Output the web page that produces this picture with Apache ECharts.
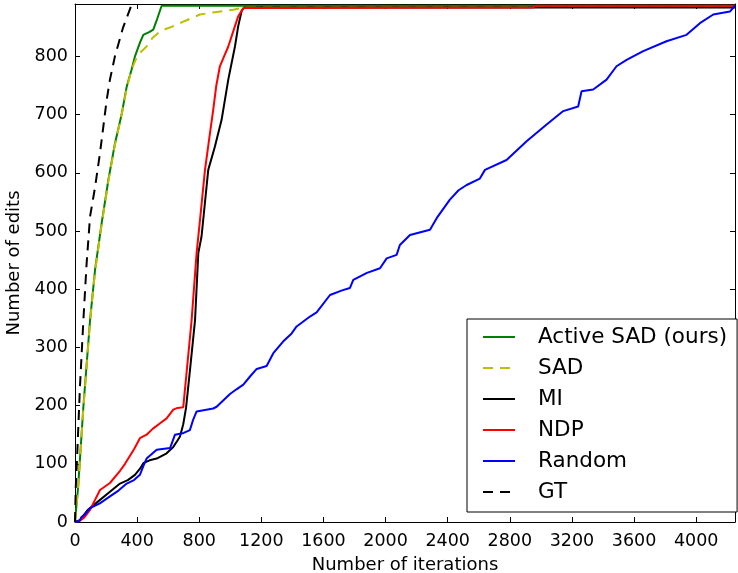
<!DOCTYPE html>
<html>
<head>
<meta charset="utf-8">
<script src="https://cdn.jsdelivr.net/npm/echarts@6/dist/echarts.min.js"></script>
<style>html,body{margin:0;padding:0;background:#fff}#c{width:738px;height:573px}</style>
</head>
<body>
<div id="c"></div>
<script>
const xTicks = [0, 400, 800, 1200, 1600, 2000, 2400, 2800, 3200, 3600, 4000];
const yTicks = [0, 100, 200, 300, 400, 500, 600, 700, 800];

const activeSad = [[0,0],[20,60],[54,198],[97,347],[129,433],[172,514],[215,588],[257,650],[300,700],[333,748],[365,778],[386,800],[420,825],[440,837],[480,842],[504,846],[530,865],[558,887],[4250,887]];
const sad = [[0,0],[20,58],[54,195],[97,345],[129,430],[172,512],[215,586],[257,648],[300,700],[333,745],[365,778],[400,800],[418,806],[461,817],[500,832],[547,843],[633,852],[700,860],[805,872],[900,876],[1020,880],[1105,885],[4250,885]];
const mi = [[0,0],[30,3],[80,20],[161,38],[225,52],[290,66],[340,72],[386,81],[420,92],[440,101],[480,106],[526,109],[590,118],[633,129],[660,140],[676,147],[697,168],[715,196],[740,260],[773,347],[794,462],[815,491],[858,605],[901,645],[944,691],[987,760],[1030,817],[1051,852],[1073,878],[1090,884],[4250,884]];
const ndp = [[0,0],[30,2],[60,8],[97,21],[129,38],[161,55],[225,67],[290,88],[322,100],[380,125],[418,144],[461,150],[500,160],[550,170],[590,178],[633,193],[660,196],[697,197],[708,197],[751,347],[783,462],[805,519],[837,605],[865,660],[890,708],[910,750],[933,783],[960,800],[987,817],[1030,852],[1051,869],[1084,883],[2950,884],[2970,887],[4250,887]];
const random = [[0,0],[30,2],[43,9],[60,12],[97,24],[160,32],[225,44],[280,54],[333,66],[380,72],[418,81],[440,96],[461,109],[526,124],[612,127],[644,150],[700,153],[740,158],[760,175],[783,190],[890,195],[912,198],[998,220],[1040,228],[1084,236],[1127,250],[1170,263],[1234,268],[1277,290],[1340,310],[1395,324],[1427,336],[1513,353],[1556,360],[1642,390],[1720,398],[1770,402],[1792,416],[1880,428],[1964,436],[2007,453],[2071,459],[2092,476],[2157,493],[2286,502],[2329,522],[2414,554],[2470,570],[2522,579],[2607,590],[2640,605],[2779,622],[2908,654],[3037,683],[3144,706],[3240,714],[3262,740],[3337,743],[3423,760],[3487,783],[3552,794],[3659,809],[3809,826],[3938,837],[4024,857],[4110,872],[4217,877],[4250,887]];
const gt = [[0,0],[5,60],[11,95],[32,233],[54,347],[75,445],[97,525],[129,575],[161,634],[204,725],[225,760],[257,800],[310,850],[365,889]];

const names = ['Active SAD (ours)', 'SAD', 'MI', 'NDP', 'Random', 'GT'];
const FONT = 'DejaVu Sans';

function mkLine(name, data, color, dashed) {
  return {
    name: name, type: 'line', data: data, symbol: 'none', showSymbol: false, silent: true,
    animation: false, clip: true,
    lineStyle: { color: color, width: 2, type: dashed ? [10, 7] : 'solid' },
    itemStyle: { color: color }
  };
}

const chart = echarts.init(document.getElementById('c'), null, { renderer: 'canvas' });
const axisCommon = {
  axisLine: { show: true, onZero: false, lineStyle: { color: '#000', width: 1 } },
  axisTick: { show: true, inside: true, length: 5, lineStyle: { color: '#000', width: 1 } },
  splitLine: { show: false }
};
chart.setOption({
  animation: false,
  backgroundColor: '#fff',
  grid: { left: 75, right: 3, top: 4, bottom: 51, containLabel: false, outerBoundsMode: 'none' },
  xAxis: [
    Object.assign({
      type: 'value', min: 0, max: 4250, interval: 400, position: 'bottom',
      name: 'Number of iterations', nameLocation: 'middle', nameGap: 34,
      nameTextStyle: { fontFamily: FONT, fontSize: 18, color: '#000' },
      axisLabel: { show: true, margin: 10, fontFamily: FONT, fontSize: 17.5, color: '#000',
        formatter: v => (xTicks.indexOf(v) >= 0 ? String(v) : '') }
    }, axisCommon),
    Object.assign({
      type: 'value', min: 0, max: 4250, interval: 400, position: 'top',
      axisLabel: { show: false }
    }, axisCommon)
  ],
  yAxis: [
    Object.assign({
      type: 'value', min: 0, max: 890, interval: 100, position: 'left',
      name: 'Number of edits', nameLocation: 'middle', nameGap: 42,
      nameTextStyle: { fontFamily: FONT, fontSize: 18, color: '#000' },
      axisLabel: { show: true, margin: 7, fontFamily: FONT, fontSize: 17.5, color: '#000',
        formatter: v => (yTicks.indexOf(v) >= 0 ? String(v) : '') }
    }, axisCommon),
    Object.assign({
      type: 'value', min: 0, max: 890, interval: 100, position: 'right',
      axisLabel: { show: false }
    }, axisCommon)
  ],
  legend: {
    show: true, orient: 'vertical', left: 467, top: 319,
    data: names,
    itemWidth: 32, itemHeight: 14, itemGap: 9,
    padding: [7, 10, 9, 15],
    borderColor: '#000', borderWidth: 1, borderRadius: 0,
    backgroundColor: '#fff',
    selectedMode: false,
    itemStyle: { opacity: 0 },
    textStyle: { fontFamily: FONT, fontSize: 21.5, color: '#000', lineHeight: 22, padding: [0, 0, 0, 18] }
  },
  series: [
    mkLine(names[0], activeSad, '#008000', false),
    mkLine(names[1], sad, '#bfbf00', true),
    mkLine(names[2], mi, '#000000', false),
    mkLine(names[3], ndp, '#ff0000', false),
    mkLine(names[4], random, '#0000ff', false),
    mkLine(names[5], gt, '#000000', true)
  ]
});
</script>
</body>
</html>
